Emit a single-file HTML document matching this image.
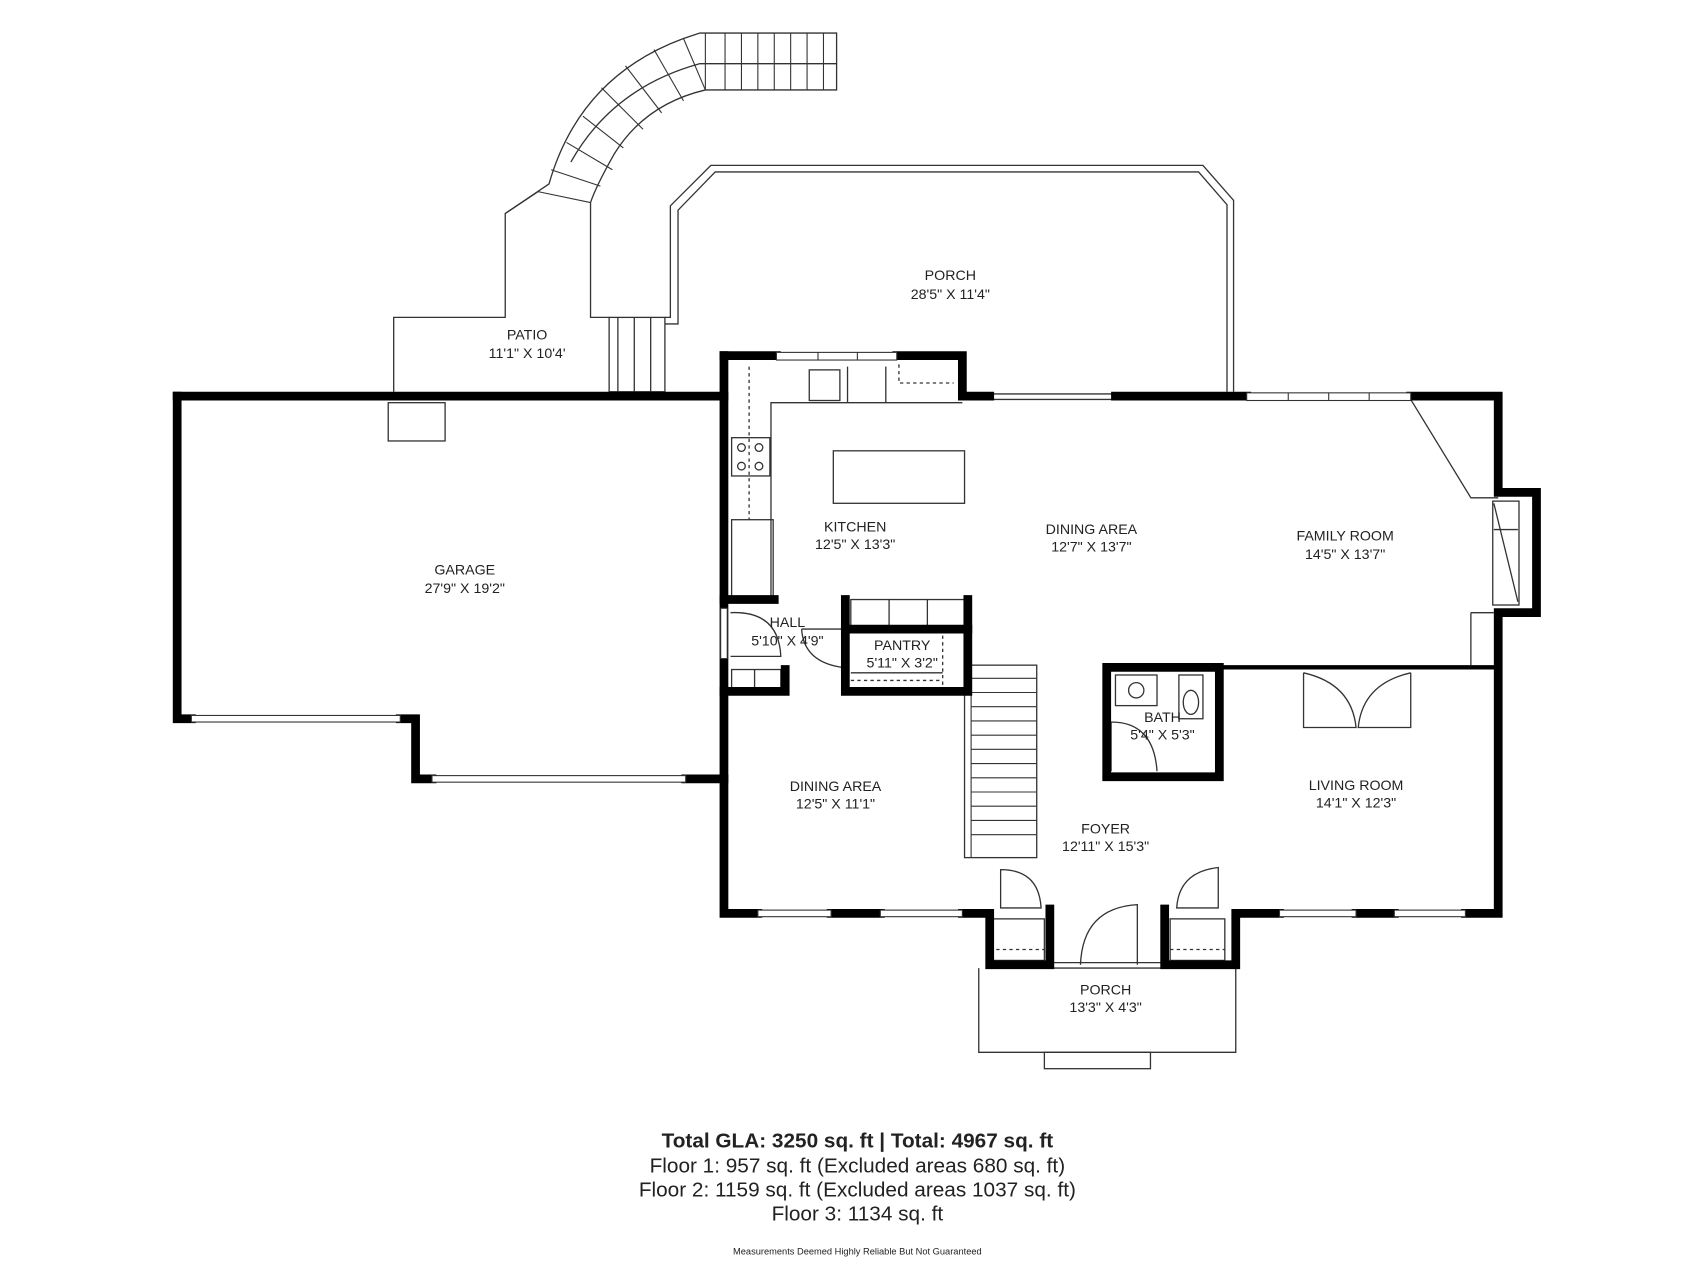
<!DOCTYPE html>
<html><head><meta charset="utf-8"><style>
html,body{margin:0;padding:0;background:#fff;}
svg{display:block;}
text{font-family:"Liberation Sans",sans-serif;fill:#222;}
</style></head><body>
<svg width="1706" height="1280" viewBox="0 0 1560 1170" xmlns="http://www.w3.org/2000/svg">
<g fill="none" stroke="#333" stroke-width="1.2">
<path d="M462,195 L502,168 Q530,70 625,35 L640,30 L765,30 L765,82 L698,82 L645,82 Q590,95 562,140 Q545,170 540,185"/>
<path d="M522,148 Q560,80 640,58 L765,58"/>
<g stroke-width="1">
<line x1="663" y1="30" x2="663" y2="82"/><line x1="678" y1="30" x2="678" y2="82"/><line x1="693" y1="30" x2="693" y2="82"/><line x1="708" y1="30" x2="708" y2="82"/><line x1="723" y1="30" x2="723" y2="82"/><line x1="738" y1="30" x2="738" y2="82"/><line x1="753" y1="30" x2="753" y2="82"/><line x1="645" y1="30" x2="645" y2="82"/>
<line x1="625" y1="35" x2="645" y2="82"/><line x1="598" y1="45" x2="625" y2="92"/><line x1="572" y1="60" x2="605" y2="103"/><line x1="550" y1="80" x2="588" y2="118"/><line x1="533" y1="106" x2="570" y2="135"/><line x1="518" y1="130" x2="560" y2="155"/><line x1="504" y1="155" x2="549" y2="170"/><line x1="492" y1="175" x2="540" y2="185"/>
</g>
<path d="M360,358 L360,290 L462,290 L462,195 L492,175"/>
<path d="M540,185 L540,290 L557,290"/>
<rect x="557" y="290" width="51" height="68"/>
<line x1="565" y1="290" x2="565" y2="358"/><line x1="580" y1="290" x2="580" y2="358"/><line x1="595" y1="290" x2="595" y2="358"/>
<path d="M608,290 L613,290 L613,188 L650,151 L1100,151 L1128,183 L1128,358"/>
<path d="M608,296 L620,296 L620,192 L654,157 L1096,157 L1122,187 L1122,358"/>
<rect x="355" y="368" width="52" height="35"/>
<path d="M705,548 L705,368 L880,368"/>
<rect x="740" y="338" width="28" height="28"/><line x1="775" y1="335" x2="775" y2="368"/><line x1="810" y1="335" x2="810" y2="368"/>
<path d="M822,333 L822,350 L872,350" stroke-dasharray="3,3"/>
<line x1="685" y1="335" x2="685" y2="475" stroke-dasharray="3,3"/>
<rect x="669" y="400" width="35" height="35"/>
<circle cx="678" cy="409" r="3.5"/><circle cx="694" cy="409" r="3.5"/><circle cx="678" cy="426" r="3.5"/><circle cx="694" cy="426" r="3.5"/>
<rect x="669" y="475" width="38" height="73"/>
<rect x="762" y="412" width="120" height="48"/>
<line x1="905" y1="360" x2="1020" y2="360"/><line x1="905" y1="365" x2="1020" y2="365"/>
<path d="M1290,365 L1345,455 L1370,455"/>
<rect x="1365" y="458" width="24" height="95"/>
<line x1="1366" y1="484" x2="1388" y2="484"/><line x1="1366" y1="460" x2="1388" y2="550"/>
<path d="M1345,560 L1345,608 M1345,560 L1366,560"/>
<rect x="778" y="548" width="105" height="25"/><line x1="813" y1="548" x2="813" y2="573"/><line x1="848" y1="548" x2="848" y2="573"/>
<line x1="778" y1="615" x2="862" y2="615"/><line x1="862" y1="575" x2="862" y2="628" stroke-dasharray="3,3"/>
<line x1="778" y1="622" x2="862" y2="622" stroke-dasharray="3,3"/>
<path d="M668,560 Q712,558 714,600 L668,600"/>
<path d="M733,575 Q735,605 770,610 M733,575 L770,575"/>
<rect x="669" y="612" width="45" height="18"/><line x1="690" y1="612" x2="690" y2="630"/>
<rect x="882" y="608" width="66" height="176"/>
<g stroke-width="1">
<line x1="888" y1="620" x2="948" y2="620"/><line x1="888" y1="633" x2="948" y2="633"/><line x1="888" y1="646" x2="948" y2="646"/><line x1="888" y1="659" x2="948" y2="659"/><line x1="888" y1="672" x2="948" y2="672"/><line x1="888" y1="685" x2="948" y2="685"/><line x1="888" y1="698" x2="948" y2="698"/><line x1="888" y1="711" x2="948" y2="711"/><line x1="888" y1="724" x2="948" y2="724"/><line x1="888" y1="737" x2="948" y2="737"/><line x1="888" y1="750" x2="948" y2="750"/><line x1="888" y1="763" x2="948" y2="763"/>
<line x1="888" y1="608" x2="888" y2="784"/>
</g>
<rect x="1020" y="617" width="38" height="28"/><circle cx="1039" cy="631" r="7"/>
<rect x="1078" y="617" width="22" height="40"/><ellipse cx="1089" cy="642" rx="7" ry="11"/>
<path d="M1016,660 Q1055,660 1058,705 M1016,660 L1016,705"/>
<path d="M1192,615 L1192,665 L1240,665 Q1236,625 1192,615"/>
<path d="M1290,615 L1290,665 L1242,665 Q1246,625 1290,615"/>
<rect x="905" y="840" width="50" height="38"/><line x1="905" y1="868" x2="955" y2="868" stroke-dasharray="3,3"/>
<rect x="1070" y="840" width="50" height="38"/><line x1="1070" y1="868" x2="1120" y2="868" stroke-dasharray="3,3"/>
<path d="M915,795 Q950,795 952,830 L915,830 Z"/>
<path d="M1114,793 Q1078,797 1076,830 L1114,830 Z"/>
<path d="M988,882 Q990,830 1040,827 L1040,882"/>
<line x1="960" y1="880" x2="1065" y2="880"/><line x1="960" y1="885" x2="1065" y2="885"/>
<path d="M895,885 L895,962 L1130,962 L1130,885"/>
<rect x="955" y="962" width="97" height="15"/>
</g>
<g fill="none" stroke="#000" stroke-width="8" stroke-linejoin="miter" stroke-linecap="square">
<path d="M162,362 L662,362"/>
<path d="M162,362 L162,657 L175,657"/>
<path d="M366,657 L380,657 L380,712 L395,712"/>
<path d="M627,712 L662,712"/>
<path d="M662,325 L662,835 L693,835"/>
<path d="M760,835 L805,835"/>
<path d="M880,835 L905,835 L905,882 L960,882 L960,831"/>
<path d="M662,325 L710,325"/>
<path d="M820,325 L880,325 L880,362 L905,362"/>
<path d="M1020,362 L1140,362"/>
<path d="M1290,362 L1370,362 L1370,450 L1405,450 L1405,560 L1370,560 L1370,835 L1340,835"/>
<path d="M1275,835 L1240,835"/>
<path d="M1170,835 L1130,835 L1130,882 L1065,882 L1065,831"/>
<path d="M662,548 L708,548"/>
<path d="M773,548 L773,632 L885,632 L885,548"/>
<path d="M773,575 L885,575"/>
<path d="M662,632 L718,632 L718,612"/>
<path d="M1012,610 L1012,710 L1115,710 L1115,610 Z"/>
</g>
<line x1="1115" y1="610" x2="1370" y2="610" stroke="#000" stroke-width="4"/>
<g fill="#fff" stroke="#333" stroke-width="1">
<rect x="710" y="322" width="110" height="7"/><line x1="748" y1="322" x2="748" y2="329"/><line x1="784" y1="322" x2="784" y2="329"/>
<rect x="1140" y="359" width="150" height="7"/><line x1="1178" y1="359" x2="1178" y2="366"/><line x1="1215" y1="359" x2="1215" y2="366"/><line x1="1252" y1="359" x2="1252" y2="366"/>
<rect x="175" y="654" width="191" height="6"/>
<rect x="395" y="709" width="232" height="6"/>
<rect x="693" y="832" width="67" height="6"/><rect x="805" y="832" width="75" height="6"/>
<rect x="1170" y="832" width="70" height="6"/><rect x="1275" y="832" width="65" height="6"/>
<rect x="659" y="556" width="6" height="46"/>
</g>
<g font-size="13" text-anchor="middle">
<text x="869" y="256">PORCH</text><text x="869" y="273">28'5" X 11'4"</text>
<text x="482" y="310">PATIO</text><text x="482" y="327">11'1" X 10'4'</text>
<text x="425" y="525">GARAGE</text><text x="425" y="542">27'9" X 19'2"</text>
<text x="782" y="486">KITCHEN</text><text x="782" y="502">12'5" X 13'3"</text>
<text x="998" y="488">DINING AREA</text><text x="998" y="504">12'7" X 13'7"</text>
<text x="1230" y="494">FAMILY ROOM</text><text x="1230" y="511">14'5" X 13'7"</text>
<text x="720" y="573">HALL</text><text x="720" y="590">5'10" X 4'9"</text>
<text x="825" y="594">PANTRY</text><text x="825" y="610">5'11" X 3'2"</text>
<text x="1063" y="660">BATH</text><text x="1063" y="676">5'4" X 5'3"</text>
<text x="764" y="723">DINING AREA</text><text x="764" y="739">12'5" X 11'1"</text>
<text x="1240" y="722">LIVING ROOM</text><text x="1240" y="738">14'1" X 12'3"</text>
<text x="1011" y="762">FOYER</text><text x="1011" y="778">12'11" X 15'3"</text>
<text x="1011" y="909">PORCH</text><text x="1011" y="925">13'3" X 4'3"</text>
</g>
<g text-anchor="middle">
<text x="784" y="1049" font-size="19" font-weight="bold">Total GLA: 3250 sq. ft | Total: 4967 sq. ft</text>
<text x="784" y="1072" font-size="19">Floor 1: 957 sq. ft (Excluded areas 680 sq. ft)</text>
<text x="784" y="1094" font-size="19">Floor 2: 1159 sq. ft (Excluded areas 1037 sq. ft)</text>
<text x="784" y="1116" font-size="19">Floor 3: 1134 sq. ft</text>
<text x="784" y="1147" font-size="8.5">Measurements Deemed Highly Reliable But Not Guaranteed</text>
</g>
</svg>
</body></html>
